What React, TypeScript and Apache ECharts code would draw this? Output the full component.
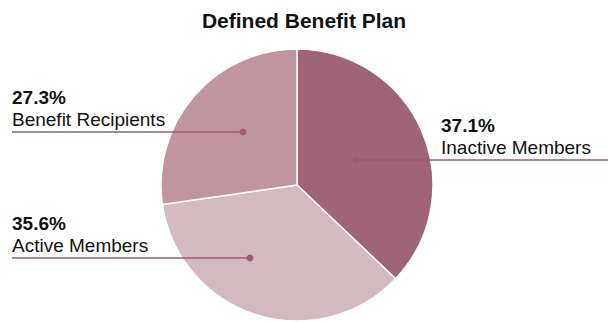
import React, { useEffect, useRef } from "react";
import * as echarts from "echarts";

const title = "Defined Benefit Plan";
const categories = ["Inactive Members", "Active Members", "Benefit Recipients"];
const values = [37.1, 35.6, 27.3];
const colors = ["#a06479", "#d5b9c1", "#c095a0"];

// label layout: anchor dot inside slice, label text start x, line end x
const anchors = [
  { dot: [356, 160], textX: 441, lineEnd: 608 },
  { dot: [250, 258], textX: 12, lineEnd: 12 },
  { dot: [243, 132], textX: 12, lineEnd: 12 },
];

const LINE = "#9a5b75";
const FONT = "'Liberation Sans', Arial, Helvetica, sans-serif";

export default function App() {
  const ref = useRef<HTMLDivElement>(null);
  useEffect(() => {
    const chart = echarts.init(ref.current!, null, { renderer: "svg" });
    const guides: any[] = [];
    anchors.forEach((a) => {
      guides.push({
        type: "line",
        shape: { x1: a.dot[0], y1: a.dot[1], x2: a.lineEnd, y2: a.dot[1] },
        style: { stroke: LINE, lineWidth: 1.5 },
        z: 100,
      });
      guides.push({
        type: "circle",
        shape: { cx: a.dot[0], cy: a.dot[1], r: 3.5 },
        style: { fill: LINE },
        z: 101,
      });
    });
    chart.setOption({
      animation: false,
      title: {
        text: title,
        left: "center",
        top: 5,
        textStyle: { fontFamily: FONT, fontSize: 21, fontWeight: "bold", color: "#111" },
      },
      graphic: guides,
      series: [
        {
          type: "pie",
          center: [297, 185],
          radius: 136,
          startAngle: 90,
          clockwise: true,
          avoidLabelOverlap: false,
          itemStyle: { borderColor: "#fff", borderWidth: 1.5 },
          data: categories.map((c, i) => ({
            name: c,
            value: values[i],
            itemStyle: { color: colors[i] },
          })),
          label: {
            show: true,
            position: "outside",
            formatter: (p: any) => `{p|${p.value.toFixed(1)}%}\n{n|${p.name}}`,
            rich: {
              p: { fontFamily: FONT, fontSize: 19, fontWeight: "bold", color: "#111", lineHeight: 22 },
              n: { fontFamily: FONT, fontSize: 19, color: "#111", lineHeight: 22 },
            },
          },
          labelLine: { show: false },
          labelLayout: (params: any) => {
            const a = anchors[params.dataIndex];
            return {
              x: a.textX,
              y: a.dot[1] - 2,
              align: "left",
              verticalAlign: "bottom",
            };
          },
        },
      ],
    });
    return () => chart.dispose();
  }, []);
  return (
    <div
      ref={ref}
      style={{ position: "fixed", left: 0, top: 0, width: 608, height: 322, background: "#fff" }}
    />
  );
}
